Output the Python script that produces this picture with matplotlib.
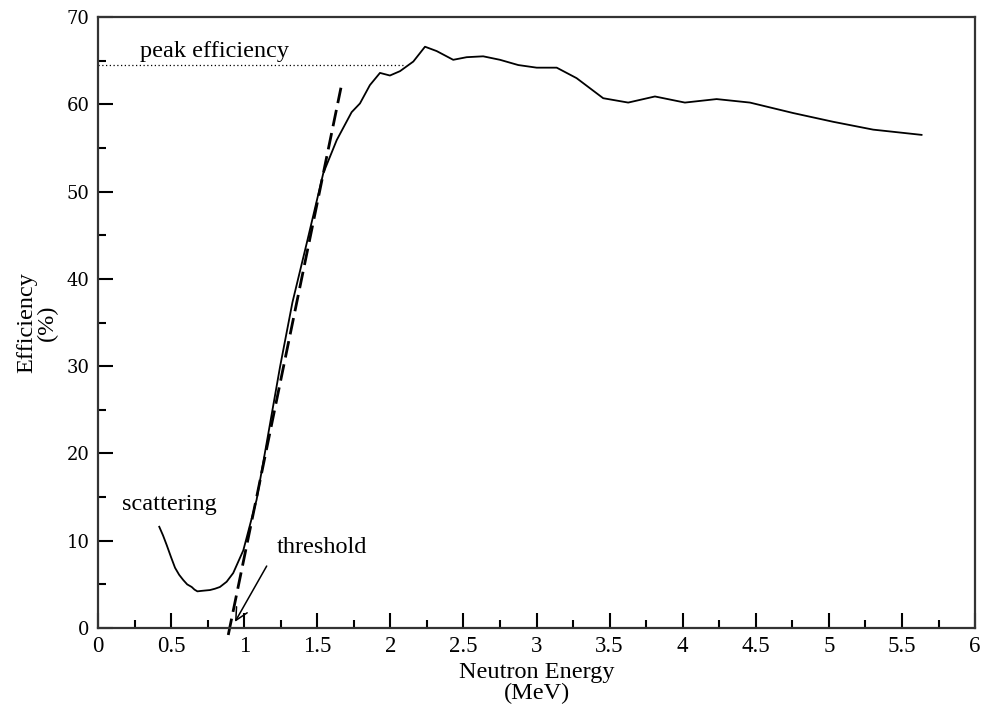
import numpy as np
import matplotlib
matplotlib.use("Agg")
import matplotlib.pyplot as plt
from matplotlib.ticker import MultipleLocator

# detector efficiency vs neutron energy
energy = [0.419, 0.445, 0.470, 0.500, 0.527, 0.555, 0.583, 0.610, 0.641, 0.660, 0.680,
          0.705, 0.735, 0.766, 0.800, 0.834, 0.880, 0.925, 0.994, 1.085, 1.160,
          1.245, 1.330, 1.428, 1.541, 1.633, 1.735, 1.792, 1.860, 1.929, 1.997,
          2.066, 2.157, 2.237, 2.317, 2.430, 2.522, 2.635, 2.750, 2.875, 3.001,
          3.138, 3.274, 3.456, 3.627, 3.810, 4.015, 4.232, 4.460, 4.756, 5.029,
          5.303, 5.634]
efficiency = [11.6, 10.6, 9.5, 8.1, 6.9, 6.1, 5.5, 5.0, 4.7, 4.4, 4.2,
              4.25, 4.3, 4.35, 4.5, 4.7, 5.3, 6.3, 8.9, 14.7, 21.8,
              29.9, 37.3, 44.1, 52.1, 55.9, 59.1, 60.1, 62.2, 63.6, 63.3,
              63.8, 64.9, 66.6, 66.1, 65.1, 65.4, 65.5, 65.1, 64.5, 64.2,
              64.2, 63.0, 60.7, 60.2, 60.9, 60.2, 60.6, 60.2, 59.0, 58.0,
              57.1, 56.5]

# linear fit through the rising edge
fit_x = [0.891, 1.662]
fit_y = [-0.8, 61.9]

peak_eff = 64.5
peak_end = 2.09

fig = plt.figure(figsize=(9.87, 7.13), dpi=100)
ax = fig.add_axes([0.0993, 0.1192, 0.8886, 0.8569])

ax.plot(energy, efficiency, color="black", lw=1.3)
ax.plot(fit_x, fit_y, color="black", lw=2.0, dashes=(6, 2.5), clip_on=False)
ax.plot([0, peak_end], [peak_eff, peak_eff], color="black", lw=0.9, ls=(0, (1, 2)))

serif = "Liberation Serif"
ax.text(0.287, peak_eff + 0.4, "peak efficiency", family=serif, fontsize=17.5,
        va="bottom", ha="left")
ax.text(0.162, 14.2, "scattering", family=serif, fontsize=17.5, va="center", ha="left")
ax.text(1.222, 9.2, "threshold", family=serif, fontsize=17.5, va="center", ha="left")
ax.annotate("", xy=(0.937, 0.7), xytext=(1.154, 7.1),
            arrowprops=dict(arrowstyle="->", color="black", lw=1.1,
                            mutation_scale=22, shrinkA=0, shrinkB=0))

ax.set_xlim(0, 6)
ax.set_ylim(0, 70)
ax.xaxis.set_minor_locator(MultipleLocator(0.25))
ax.yaxis.set_major_locator(MultipleLocator(10))
ax.yaxis.set_minor_locator(MultipleLocator(5))
ax.set_xticks(np.arange(0, 6.01, 0.5))
ax.set_xticklabels([f"{v:g}" for v in np.arange(0, 6.01, 0.5)])

ax.tick_params(which="both", direction="in", top=False, right=False, width=1.5)
ax.tick_params(which="major", length=11, pad=6)
ax.tick_params(which="minor", length=6)
for lab in ax.get_xticklabels():
    lab.set_family(serif)
    lab.set_fontsize(16.5)
for lab in ax.get_yticklabels():
    lab.set_family("DejaVu Serif")
    lab.set_fontsize(13)

for sp in ax.spines.values():
    sp.set_linewidth(1.6)
    sp.set_color("#333333")

ax.set_xlabel("Neutron Energy\n(MeV)", family=serif, fontsize=17.5, labelpad=3,
              linespacing=1.05)
ax.set_ylabel("Efficiency\n(%)", family=serif, fontsize=17.5, labelpad=6,
              linespacing=1.0)

fig.savefig("out.png", dpi=100)
